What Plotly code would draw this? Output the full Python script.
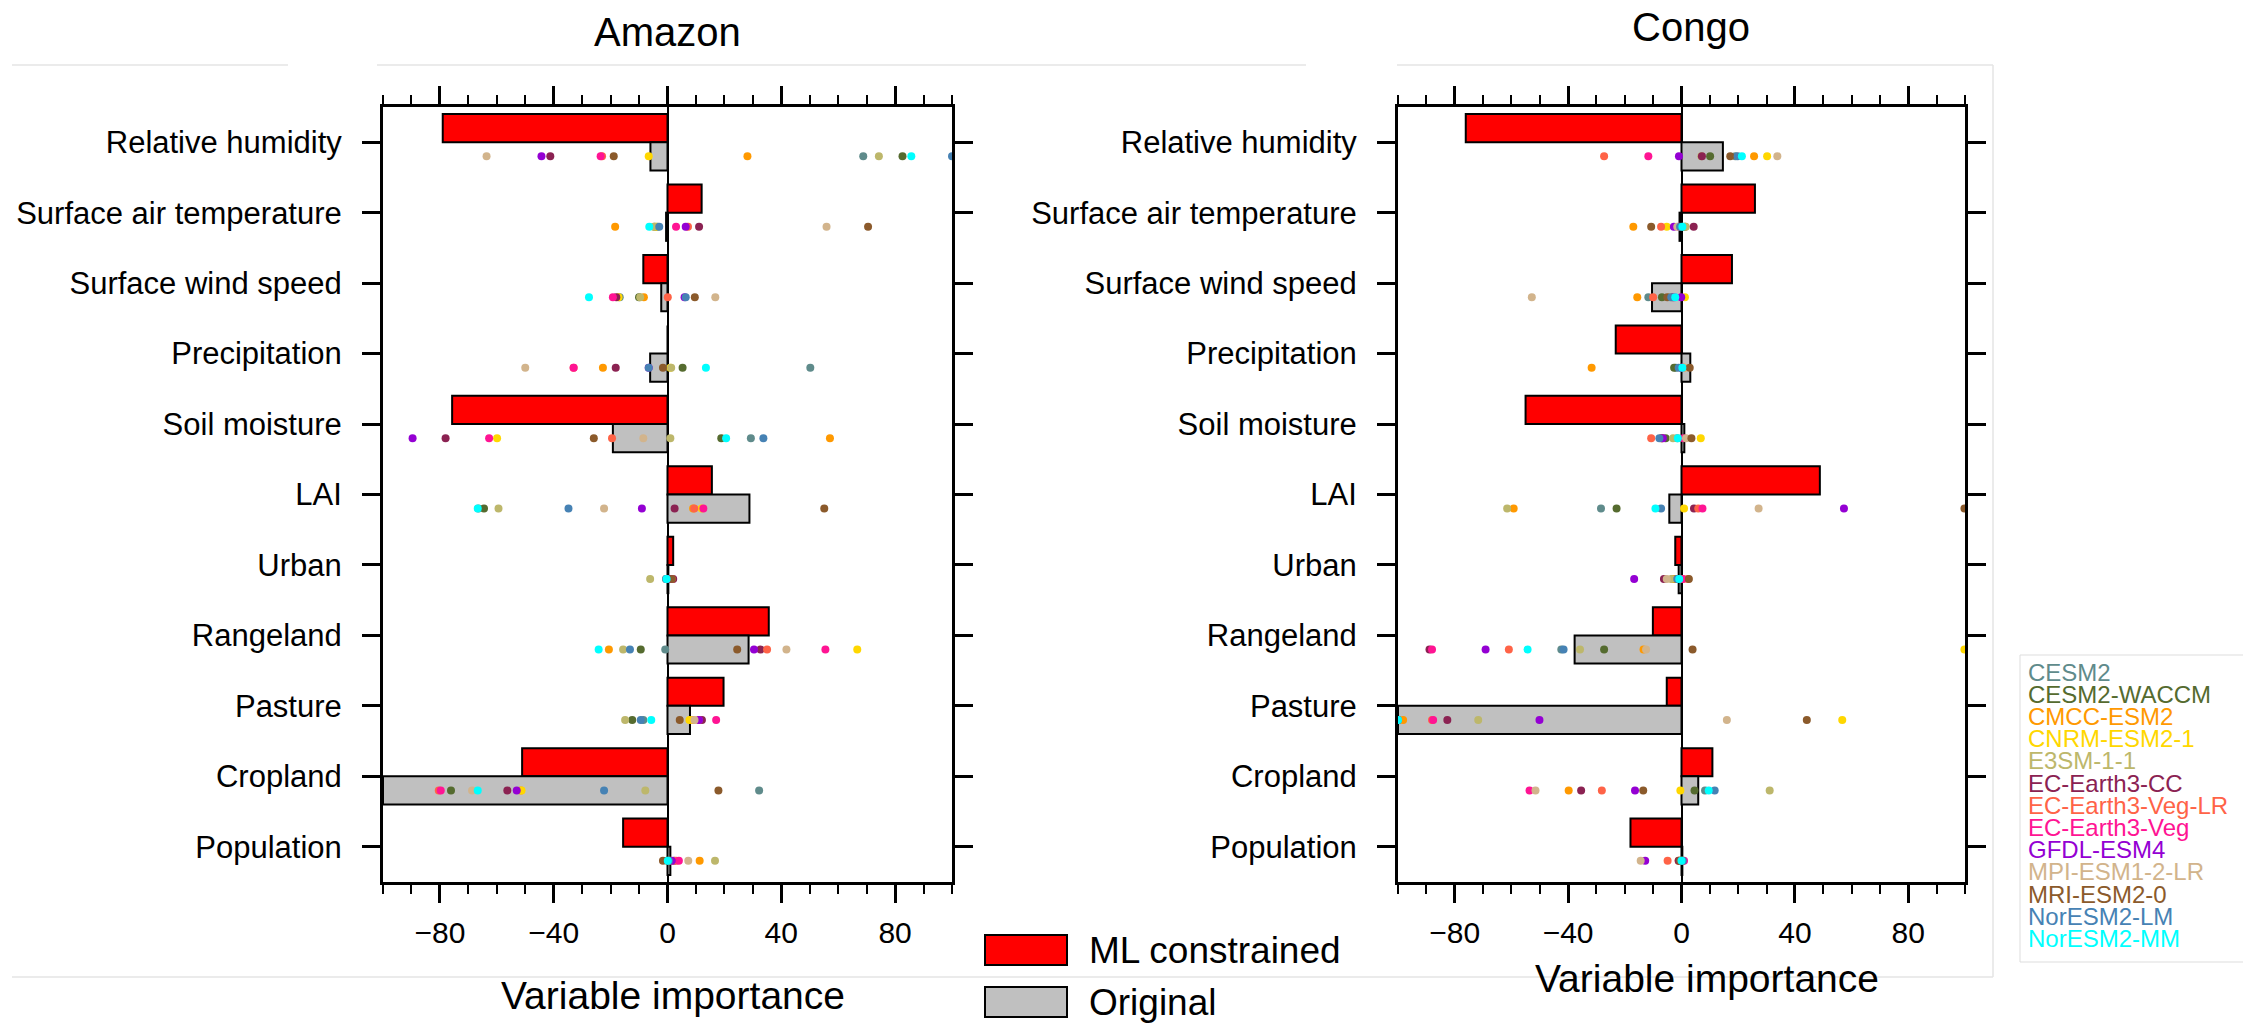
import plotly.graph_objects as go

# page pixel size; the browser body adds an 8 px margin, so the figure is drawn 8 px smaller
PAGE_W, PAGE_H = 2256, 1025
OFF = 8
W, H = PAGE_W - OFF, PAGE_H - OFF

variables = ["Relative humidity", "Surface air temperature", "Surface wind speed",
             "Precipitation", "Soil moisture", "LAI", "Urban", "Rangeland",
             "Pasture", "Cropland", "Population"]

models = ["CESM2", "CESM2-WACCM", "CMCC-ESM2", "CNRM-ESM2-1", "E3SM-1-1",
          "EC-Earth3-CC", "EC-Earth3-Veg-LR", "EC-Earth3-Veg", "GFDL-ESM4",
          "MPI-ESM1-2-LR", "MRI-ESM2-0", "NorESM2-LM", "NorESM2-MM"]
model_colors = ["#5f8b8b", "#556b2f", "#ff9900", "#ffd700", "#bdb76b",
                "#8b2252", "#ff6347", "#ff1493", "#9400d3", "#d2b48c",
                "#8b5a2b", "#4682b4", "#00ffff"]

amazon_ml = [-79.0, 12.0, -8.5, 0.0, -75.7, 15.6, 2.0, 35.6, 19.7, -51.1, -15.6]
amazon_orig = [-6.0, -0.5, -2.2, -6.1, -19.2, 28.8, 0.3, 28.5, 7.9, -100.0, 1.0]
congo_ml = [-76.1, 25.9, 17.8, -23.2, -55.0, 48.8, -2.2, -10.1, -5.2, 10.9, -18.0]
congo_orig = [14.6, -0.7, -10.4, 3.1, 1.0, -4.3, -1.0, -37.7, -100.0, 5.9, 0.3]

# rows = variables, columns = models (same order as `models`)
amazon_dots = [
    [68.8, 82.6, 28.1, -6.6, 74.3, -41.2, -23.0, -23.5, -44.3, -63.6, -18.9, 100.0, 85.7],
    [-3.5, -4.5, -18.4, -4.0, -4.8, 11.1, 7.2, 3.0, 6.4, 55.9, 70.5, -2.9, -6.4],
    [-16.8, -10.0, -8.3, -17.2, -9.6, -18.0, 0.1, -19.2, 6.0, 16.8, 9.6, 6.4, -27.6],
    [50.2, 5.3, -22.7, 1.0, 1.3, -18.2, -33.0, -33.0, -6.6, -50.0, -1.6, -6.6, 13.5],
    [29.3, 18.9, 57.1, -59.9, 1.0, -78.0, -19.5, -62.7, -89.6, -8.5, -25.9, 33.7, 20.6],
    [-66.5, -64.5, 9.0, 12.0, -59.4, 2.5, 9.4, 12.6, -9.0, -22.3, 55.1, -34.8, -66.7],
    [-0.5, 0.5, 0.5, 0.0, -6.1, 2.0, 1.5, 1.0, 1.0, -0.5, 1.5, -0.5, -0.3],
    [-0.8, -9.4, -20.6, 66.7, -15.6, 32.7, 35.0, 55.5, 30.4, 41.8, 24.5, -13.2, -24.2],
    [-8.5, -12.4, 9.0, 7.7, -14.9, 12.1, 11.0, 17.1, 11.1, 9.5, 4.3, -9.4, -5.7],
    [32.2, -76.1, -51.5, -51.3, -7.8, -56.3, -80.4, -79.7, -53.0, -68.7, 17.9, -22.3, -66.7],
    [0.5, 0.0, 11.3, 1.0, 16.7, 2.3, 3.0, 4.0, 1.5, 7.3, -1.6, 0.5, 0.1],
]
congo_dots = [
    [19.0, 10.1, 25.6, 30.2, 7.0, 7.2, -27.3, -11.7, -0.9, 33.8, 17.2, 19.8, 21.3],
    [0.5, 1.2, -17.0, -5.2, 1.5, 4.3, -7.2, -1.0, -2.7, -1.5, -10.7, -0.5, 0.3],
    [-11.7, -6.9, -15.6, 1.2, -4.0, -3.0, -10.0, -2.5, -0.1, -52.8, -5.0, -3.6, -2.2],
    [-2.0, -2.6, -31.7, 1.0, 0.5, 0.0, 0.5, 0.5, 0.0, 1.0, 2.9, -1.0, 0.3],
    [-1.5, -5.6, -7.0, 6.8, -3.0, -7.0, -10.7, 0.7, -6.6, 1.6, 3.5, -7.8, -1.3],
    [-28.4, -22.9, -59.2, 0.9, -61.5, 4.4, 5.9, 7.4, 57.3, 27.2, 99.8, -7.2, -9.2],
    [-2.0, -3.0, -3.0, 0.5, -3.6, -6.2, 2.2, 0.5, -16.7, -5.2, 2.6, -1.5, -0.8],
    [-42.4, -27.3, -13.4, 99.8, -35.8, -88.9, -60.9, -88.0, -69.1, -12.5, 3.9, -41.6, -54.3],
    [-100.0, -100.0, -98.2, 56.7, -71.7, -82.6, -88.0, -87.6, -50.1, 16.0, 44.2, -100.0, -100.0],
    [8.3, 4.6, -39.8, -0.4, 31.1, -35.4, -28.1, -53.6, -16.4, -51.5, -13.5, 11.7, 9.6],
    [0.0, 0.0, -1.0, 0.5, -0.5, -1.0, -4.9, 0.9, -12.8, -14.4, -0.5, 0.5, 0.0],
]

FONT = "Liberation Sans, Arial, Helvetica, sans-serif"


def px(x):
    return (x - OFF) / W


def py(y):
    return 1 - (y - OFF) / H


fig = go.Figure()

panels = [
    ("x", "y", amazon_ml, amazon_orig, amazon_dots),
    ("x2", "y2", congo_ml, congo_orig, congo_dots),
]
n = len(variables)
for xa, ya, ml, orig, dots in panels:
    fig.add_trace(go.Bar(x=ml, y=[i - 0.2 for i in range(n)], width=0.4,
                         orientation="h", marker=dict(color="#ff0000",
                         line=dict(color="black", width=2)),
                         xaxis=xa, yaxis=ya, showlegend=False, name="ML constrained"))
    fig.add_trace(go.Bar(x=orig, y=[i + 0.2 for i in range(n)], width=0.4,
                         orientation="h", marker=dict(color="#c0c0c0",
                         line=dict(color="black", width=2)),
                         xaxis=xa, yaxis=ya, showlegend=False, name="Original"))
    for m, (mname, mcol) in enumerate(zip(models, model_colors)):
        fig.add_trace(go.Scatter(x=[row[m] for row in dots],
                                 y=[i + 0.2 for i in range(n)],
                                 mode="markers", name=mname,
                                 marker=dict(color=mcol, size=8, line=dict(width=0)),
                                 xaxis=xa, yaxis=ya, showlegend=False))

ydom = [py(882), py(107)]
xdoms = [[px(383), px(952)], [px(1398), px(1965)]]

xcommon = dict(range=[-100, 100], tickmode="linear", tick0=0, dtick=40,
               ticks="outside", ticklen=18, tickwidth=3, tickcolor="black",
               showline=True, linewidth=3, linecolor="black", mirror="allticks",
               showgrid=False, zeroline=True, zerolinecolor="black", zerolinewidth=2,
               tickfont=dict(family=FONT, size=30, color="black"),
               ticklabelstandoff=4,
               minor=dict(dtick=10, tick0=0, ticks="outside", ticklen=9,
                          tickwidth=2, tickcolor="black", showgrid=False),
               fixedrange=True)
ycommon = dict(range=[n - 0.5, -0.5], tickmode="array",
               tickvals=list(range(n)), ticktext=variables,
               ticks="outside", ticklen=18, tickwidth=3, tickcolor="black",
               showline=True, linewidth=3, linecolor="black", mirror="allticks",
               showgrid=False, zeroline=False,
               tickfont=dict(family=FONT, size=31, color="black"),
               ticklabelstandoff=14, fixedrange=True)

fig.update_layout(
    width=W, height=H, margin=dict(l=0, r=0, t=0, b=0),
    paper_bgcolor="white", plot_bgcolor="white", barmode="overlay",
    xaxis=dict(domain=xdoms[0], anchor="y", **xcommon),
    yaxis=dict(domain=ydom, anchor="x", **ycommon),
    xaxis2=dict(domain=xdoms[1], anchor="y2", **xcommon),
    yaxis2=dict(domain=ydom, anchor="x2", **ycommon),
)

ann = []
shapes = []
# panel titles and axis titles
ann.append(dict(text="Amazon", x=px(667), y=py(32), font=dict(size=40)))
ann.append(dict(text="Congo", x=px(1691), y=py(27), font=dict(size=40)))
ann.append(dict(text="Variable importance", x=px(673), y=py(995), font=dict(size=39)))
ann.append(dict(text="Variable importance", x=px(1707), y=py(978), font=dict(size=39)))

# bar legend
legend_items = [("ML constrained", "#ff0000", 950), ("Original", "#c0c0c0", 1002)]
for label, col, yc in legend_items:
    shapes.append(dict(type="rect", xref="paper", yref="paper",
                       x0=px(985), x1=px(1067), y0=py(yc + 15), y1=py(yc - 15),
                       fillcolor=col, line=dict(color="black", width=2)))
    ann.append(dict(text=label, x=px(1087), y=py(yc), xanchor="left",
                    font=dict(size=37)))

# model legend (coloured names)
for k, (mname, mcol) in enumerate(zip(models, model_colors)):
    ann.append(dict(text=mname, x=px(2026), y=py(672 + 22.2 * k), xanchor="left",
                    font=dict(size=24, color=mcol)))
for (x0, y0, x1, y1) in [(2020, 655, 2243, 655), (2020, 655, 2020, 962),
                         (2020, 962, 2243, 962)]:
    shapes.append(dict(type="line", xref="paper", yref="paper", x0=px(x0), y0=py(y0),
                       x1=px(x1), y1=py(y1), line=dict(color="#dddddd", width=1)))

# faint frame lines present in the original composite
for (x0, y0, x1, y1) in [(12, 65, 288, 65), (377, 65, 1306, 65), (1397, 65, 1993, 65),
                         (1993, 65, 1993, 977), (12, 977, 1993, 977)]:
    shapes.append(dict(type="line", xref="paper", yref="paper", x0=px(x0), y0=py(y0),
                       x1=px(x1), y1=py(y1), line=dict(color="#e4e4e4", width=1.5)))

for a in ann:
    a.setdefault("xanchor", "center")
    a["yanchor"] = "middle"
    a["xref"] = "paper"
    a["yref"] = "paper"
    a["showarrow"] = False
    a["font"].setdefault("color", "black")
    a["font"]["family"] = FONT

fig.update_layout(annotations=ann, shapes=shapes)
fig.write_html("out.html")
